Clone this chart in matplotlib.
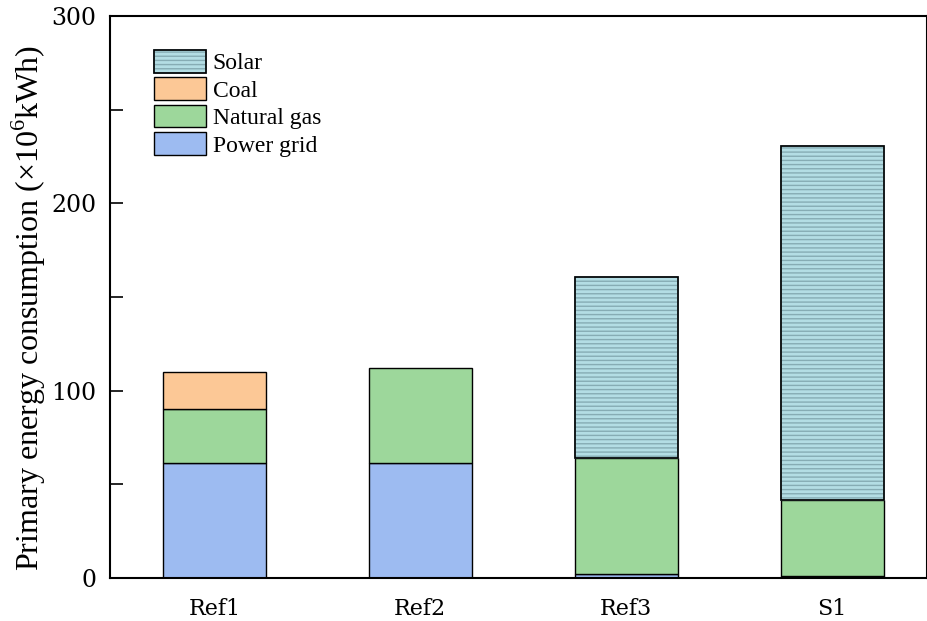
import numpy as np
import matplotlib.pyplot as plt
from matplotlib.ticker import MultipleLocator

plt.rcParams['hatch.linewidth'] = 1.0
plt.rcParams['mathtext.fontset'] = 'custom'
plt.rcParams['mathtext.rm'] = 'Liberation Serif'

cases = ["Ref1", "Ref2", "Ref3", "S1"]
power_grid = [61.4, 61.4, 2.0, 1.0]
natural_gas = [28.8, 50.7, 62.2, 40.8]
coal = [19.8, 0, 0, 0]
solar = [0, 0, 96.5, 188.8]

x = np.arange(len(cases))
w = 0.5

fig = plt.figure(figsize=(9.27, 6.21), dpi=100)
ax = fig.add_axes([0.119, 0.069, 0.881, 0.905])

b1 = ax.bar(x, power_grid, w, color="#9dbbf1", edgecolor="black", lw=1, label="Power grid")
bottom = np.array(power_grid)
b2 = ax.bar(x, natural_gas, w, bottom=bottom, color="#9dd79b", edgecolor="black", lw=1, label="Natural gas")
bottom = bottom + np.array(natural_gas)
cidx = [i for i in range(len(cases)) if coal[i] > 0]
b3 = ax.bar(x[cidx], np.array(coal)[cidx], w, bottom=bottom[cidx], color="#fcc896",
            edgecolor="black", lw=1, label="Coal")
bottom = bottom + np.array(coal)
sidx = [i for i in range(len(cases)) if solar[i] > 0]
b4 = ax.bar(x[sidx], np.array(solar)[sidx], w, bottom=bottom[sidx], color="#b3dde4",
            edgecolor="#86acb4", hatch="----", lw=1.2, label="Solar")
# black outline over the hatched solar segments
b4o = ax.bar(x[sidx], np.array(solar)[sidx], w, bottom=bottom[sidx], fill=False,
             edgecolor="black", lw=1.2)

ax.set_xlim(-0.505, 3.46)
ax.set_ylim(0, 300)
ax.set_xticks(x)
ax.set_xticklabels(cases, fontsize=16, family="DejaVu Serif")
ax.tick_params(axis="x", length=0, pad=14)
ax.yaxis.set_major_locator(MultipleLocator(100))
ax.yaxis.set_minor_locator(MultipleLocator(50))
ax.tick_params(axis="y", which="both", direction="in", length=9, width=1.2,
               labelsize=17, pad=10)
for t in ax.get_yticklabels():
    t.set_family("DejaVu Serif")
for s in ax.spines.values():
    s.set_linewidth(1.5)

ax.set_ylabel(r"Primary energy consumption (×10$^6$kWh)", fontsize=23,
              family="Liberation Serif")
ax.yaxis.set_label_coords(-0.076, 0.48)

ax.legend([(b4[0], b4o[0]), b3, b2, b1], ["Solar", "Coal", "Natural gas", "Power grid"],
          loc="upper left", bbox_to_anchor=(0.053, 0.94), frameon=False,
          prop={"family": "Liberation Serif", "size": 17}, borderpad=0, borderaxespad=0,
          handlelength=2.2, handleheight=1.1, labelspacing=0.13, handletextpad=0.3)

fig.savefig("out.png", dpi=100)
